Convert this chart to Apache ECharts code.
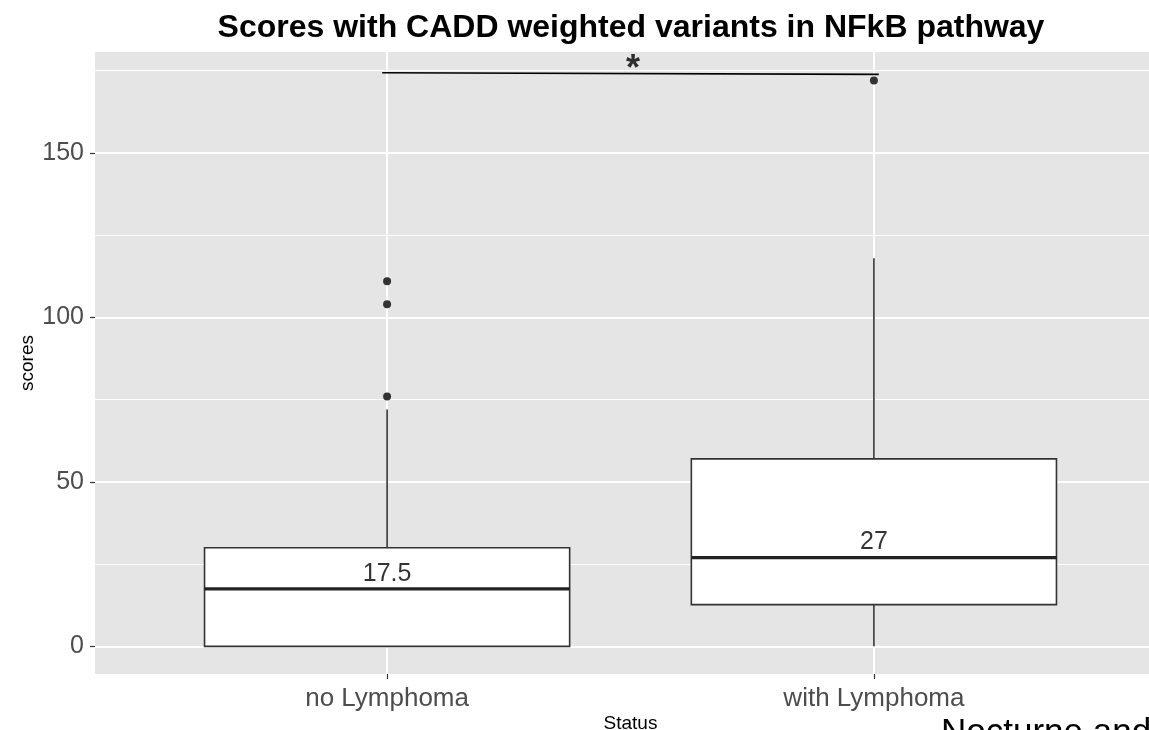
<!DOCTYPE html>
<html>
<head>
<meta charset="utf-8">
<title>Scores with CADD weighted variants in NFkB pathway</title>
<script src="https://cdn.jsdelivr.net/npm/echarts@6.0.0/dist/echarts.min.js"></script>
<style>
html, body { margin: 0; padding: 0; background: #fff; }
#main { width: 1149px; height: 730px; }
</style>
</head>
<body>
<div id="main"></div>
<script>
// groups on the x axis (ggplot puts discrete groups at 1, 2)
var groups = ['no Lymphoma', 'with Lymphoma'];
var groupPos = [1, 2];
// lower whisker, Q1, median, Q3, upper whisker
var boxStats = [
    [0, 0, 17.5, 30, 72],
    [0, 12.7, 27, 57, 118]
];
var outliers = [[1, 76], [1, 104], [1, 111], [2, 172]];
var yTicks = [0, 50, 100, 150];
var yMinorTicks = [25, 75, 125, 175];
// significance bracket and its star
var sigLine = [[0.99, 174.4], [2.01, 173.9]];
var sigStar = [[1.505, 175.1]];

var font = '"Liberation Sans", Arial, sans-serif';

var boxData = [];
var medianData = [];
for (var i = 0; i < groups.length; i++) {
    boxData.push([groupPos[i]].concat(boxStats[i]));
    medianData.push([groupPos[i], boxStats[i][2]]);
}

// box + whiskers like geom_boxplot (no caps on whiskers)
function renderBox(params, api) {
    var x = api.value(0);
    var half = 0.375;
    var lt = api.coord([x - half, api.value(4)]);
    var rb = api.coord([x + half, api.value(2)]);
    var mL = api.coord([x - half, api.value(3)]);
    var mR = api.coord([x + half, api.value(3)]);
    var lo = api.coord([x, api.value(1)]);
    var q1 = api.coord([x, api.value(2)]);
    var q3 = api.coord([x, api.value(4)]);
    var hi = api.coord([x, api.value(5)]);
    var ls = {stroke: '#333', lineWidth: 1.6};
    return {
        type: 'group',
        children: [
            {type: 'line', shape: {x1: hi[0], y1: hi[1], x2: q3[0], y2: q3[1]}, style: ls},
            {type: 'line', shape: {x1: q1[0], y1: q1[1], x2: lo[0], y2: lo[1]}, style: ls},
            {type: 'rect', shape: {x: lt[0], y: lt[1], width: rb[0] - lt[0], height: rb[1] - lt[1]},
                style: {fill: '#fff', stroke: '#333', lineWidth: 1.6}},
            {type: 'line', shape: {x1: mL[0], y1: mL[1], x2: mR[0], y2: mR[1]},
                style: {stroke: '#222', lineWidth: 3.2}}
        ]
    };
}

var myChart = echarts.init(document.getElementById('main'));

var option = {
    animation: false,
    title: {
        text: 'Scores with CADD weighted variants in NFkB pathway',
        left: 626,
        textAlign: 'center',
        top: 7,
        textStyle: {fontFamily: font, fontSize: 32, fontWeight: 'bold', color: '#000'}
    },
    grid: {
        left: 95,
        right: -17,
        top: 52,
        bottom: 56,
        containLabel: false,
        outerBoundsMode: 'none',
        show: true,
        backgroundColor: '#e5e5e5',
        borderWidth: 0
    },
    xAxis: {
        type: 'value',
        min: 0.4,
        max: 2.6,
        name: 'Status',
        nameLocation: 'middle',
        nameGap: 40,
        nameMoveOverlap: false,
        nameTextStyle: {fontFamily: font, fontSize: 19, color: '#000'},
        axisLine: {show: false, onZero: false},
        axisTick: {show: true, customValues: groupPos, length: 5, lineStyle: {color: '#333', width: 1.2}},
        axisLabel: {
            customValues: groupPos,
            margin: 12,
            fontFamily: font,
            fontSize: 26,
            color: '#4d4d4d',
            formatter: function (v) {
                var k = groupPos.indexOf(v);
                return k >= 0 ? groups[k] : '';
            }
        },
        splitLine: {show: true, lineStyle: {color: '#fff', width: 2}}
    },
    yAxis: [
        {
            type: 'value',
            min: -8.4,
            max: 180.7,
            name: 'scores',
            nameLocation: 'middle',
            nameRotate: 90,
            nameGap: 58,
            nameMoveOverlap: false,
            nameTextStyle: {fontFamily: font, fontSize: 19, color: '#000'},
            axisLine: {show: false, onZero: false},
            axisTick: {show: true, customValues: yTicks, length: 5, lineStyle: {color: '#333', width: 1.2}},
            axisLabel: {customValues: yTicks, margin: 11, fontFamily: font, fontSize: 25, color: '#4d4d4d'},
            splitLine: {show: true, lineStyle: {color: '#fff', width: 2}}
        },
        {
            // minor grid lines
            type: 'value',
            min: -8.4,
            max: 180.7,
            position: 'right',
            axisLine: {show: false, onZero: false},
            axisTick: {show: false, customValues: yMinorTicks},
            axisLabel: {show: false, customValues: yMinorTicks},
            splitLine: {show: true, lineStyle: {color: '#fff', width: 1.2}}
        }
    ],
    graphic: [
        {
            type: 'text',
            left: 941,
            top: 716,
            style: {text: 'Nocturne and', fontFamily: font, fontSize: 35, fill: '#000'}
        }
    ],
    series: [
        {
            name: 'box',
            type: 'custom',
            renderItem: renderBox,
            encode: {x: 0, y: [1, 2, 3, 4, 5]},
            data: boxData,
            z: 2
        },
        {
            name: 'outliers',
            type: 'scatter',
            data: outliers,
            symbolSize: 8,
            itemStyle: {color: '#333', opacity: 1},
            z: 3
        },
        {
            name: 'median',
            type: 'scatter',
            data: medianData,
            symbolSize: 1,
            itemStyle: {color: 'rgba(0,0,0,0)'},
            label: {
                show: true,
                position: 'top',
                distance: 2,
                fontFamily: font,
                fontSize: 25,
                color: '#000',
                formatter: function (p) { return p.value[1]; }
            },
            z: 4
        },
        {
            name: 'signif',
            type: 'line',
            data: sigLine,
            symbol: 'none',
            lineStyle: {color: '#000', width: 1.6},
            z: 4
        },
        {
            name: 'star',
            type: 'scatter',
            data: sigStar,
            symbolSize: 1,
            itemStyle: {color: 'rgba(0,0,0,0)'},
            label: {
                show: true,
                position: 'inside',
                fontFamily: font,
                fontSize: 36,
                fontWeight: 'bold',
                color: '#000',
                formatter: '*'
            },
            z: 4
        }
    ]
};

myChart.setOption(option);
</script>
</body>
</html>
